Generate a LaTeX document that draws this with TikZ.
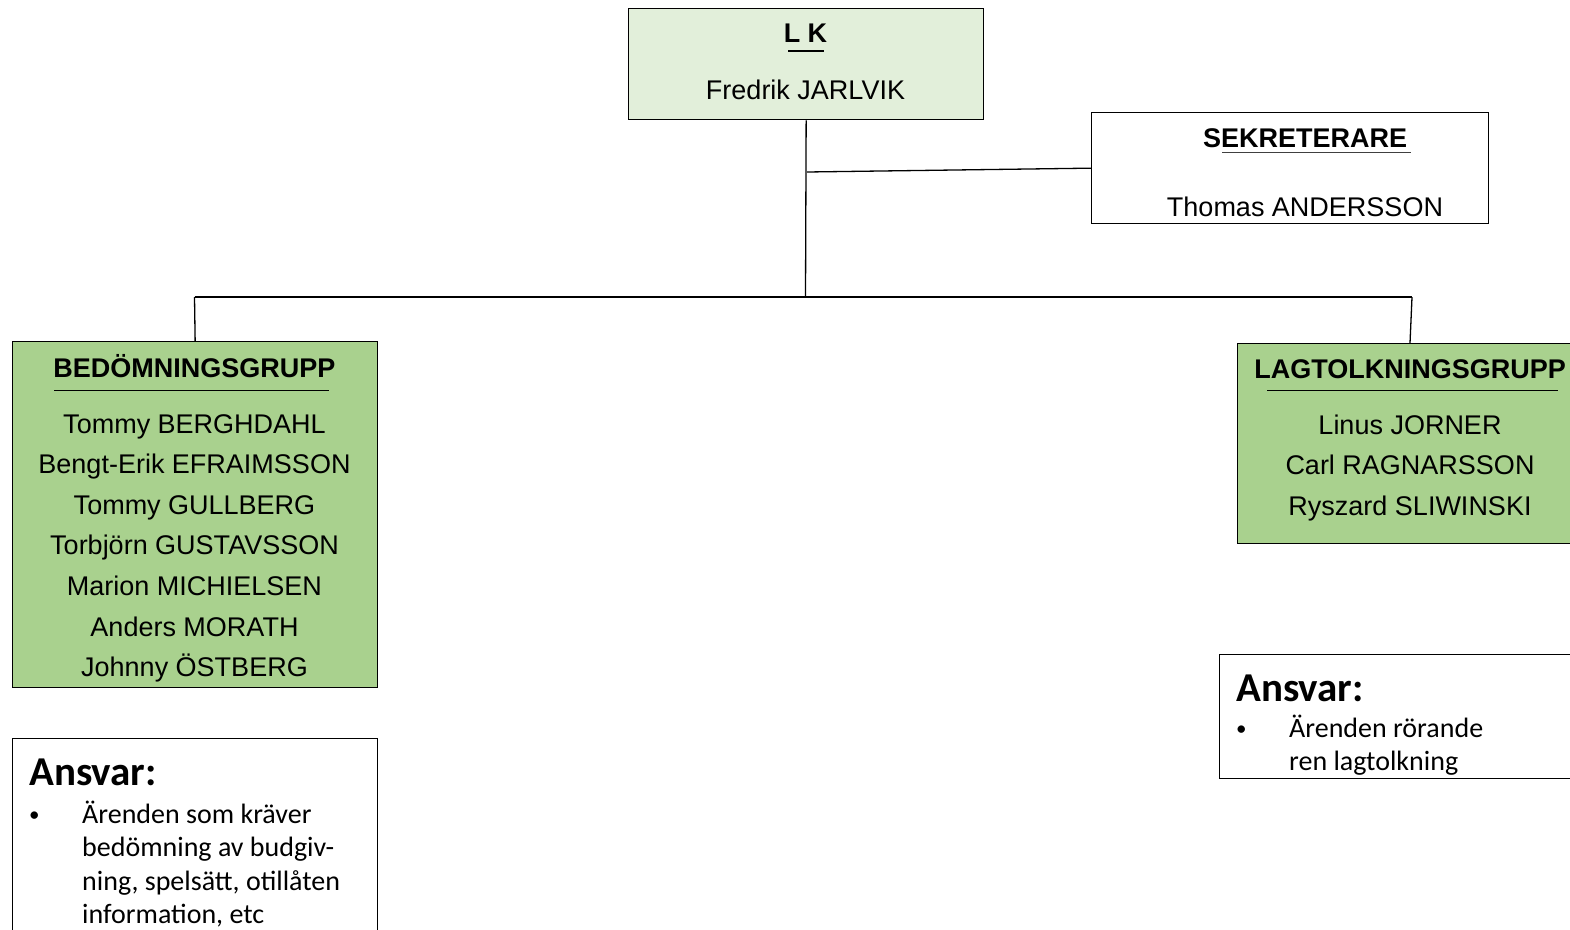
\documentclass[tikz,border=0pt]{standalone}
\usepackage{fontspec}
\setmainfont{Liberation Sans}
\newfontfamily\calib{Carlito}
\definecolor{lightgreen}{HTML}{E2EFDA}
\definecolor{midgreen}{HTML}{A9D18E}
\begin{document}
\begin{tikzpicture}[x=1pt,y=-1pt,
  box/.style={draw=black,line width=1.3pt,rectangle,inner sep=0pt,anchor=north west},
  conn/.style={draw=black,line width=1.3pt},
  ul/.style={draw=black,line width=1.2pt},
  ar/.style={font=\fontsize{27}{32}\selectfont,inner sep=0pt,anchor=base},
  arb/.style={font=\fontsize{27}{32}\bfseries\selectfont,inner sep=0pt,anchor=base},
  cal/.style={font=\calib\fontsize{28}{33}\selectfont,inner sep=0pt,anchor=base west},
  bul/.style={font=\calib\fontsize{21}{33}\selectfont,inner sep=0pt,anchor=base west},
  calb/.style={font=\calib\fontsize{41}{48}\bfseries\selectfont,inner sep=0pt,anchor=base west}]
\useasboundingbox (0,0) rectangle (1570,929);
\clip (0,0) rectangle (1570,929);
\fill[white] (0,0) rectangle (1570,929);

% boxes
\node[box,fill=lightgreen,minimum width=355pt,minimum height=111pt] (lk) at (628,8) {};
\node[box,fill=white,minimum width=397pt,minimum height=111pt] (sek) at (1091,112) {};
\node[box,fill=midgreen,minimum width=365pt,minimum height=346pt] (bed) at (12,341) {};
\node[box,fill=midgreen,minimum width=350pt,minimum height=200pt] (lag) at (1237,343) {};
\node[box,fill=white,minimum width=365pt,minimum height=215pt] (ans1) at (12,738) {};
\node[box,fill=white,minimum width=365pt,minimum height=124pt] (ans2) at (1219,654) {};

% connectors
\coordinate (busM) at (805.5,297);
\coordinate (busL) at (194.5,297);
\coordinate (busR) at (1412,297);
\coordinate (lagtop) at (1410,343);
\coordinate (sekjoin) at (807,172);
\draw[conn] (lk.south) -- (busM);
\draw[conn] (busL) -- (busR);
\draw[conn] (busL) -- (bed.north);
\draw[conn] (busR) -- (lagtop);
\draw[conn] (sekjoin) -- (sek.west);

% LK
\node[arb] (lkt) at (805.5,42) {L K};
\draw[ul] (788,51) -- (824,51);
\node[ar] (lkn) at (805.5,99) {Fredrik JARLVIK};

% Sekreterare
\node[arb] (sekt) at (1305,147) {SEKRETERARE};
\draw[ul,draw=black!75] (1222,152.5) -- (1411,152.5);
\node[ar] (sekn) at (1305,216) {Thomas ANDERSSON};

% Bedomningsgrupp
\node[arb] (bedt) at (194.5,377) {BEDÖMNINGSGRUPP};
\draw[ul] (54,390.5) -- (329,390.5);
\node[ar] (b1) at (194.5,433) {Tommy BERGHDAHL};
\node[ar] (b2) at (194.5,473.6) {Bengt-Erik EFRAIMSSON};
\node[ar] (b3) at (194.5,514.2) {Tommy GULLBERG};
\node[ar] (b4) at (194.5,554.8) {Torbjörn GUSTAVSSON};
\node[ar] (b5) at (194.5,595.4) {Marion MICHIELSEN};
\node[ar] (b6) at (194.5,636) {Anders MORATH};
\node[ar] (b7) at (194.5,676.6) {Johnny ÖSTBERG};

% Lagtolkningsgrupp
\node[arb] (lagt) at (1410,378) {LAGTOLKNINGSGRUPP};
\draw[ul] (1267,390.5) -- (1558,390.5);
\node[ar] (l1) at (1410,434) {Linus JORNER};
\node[ar] (l2) at (1410,474.6) {Carl RAGNARSSON};
\node[ar] (l3) at (1410,515.2) {Ryszard SLIWINSKI};

% Ansvar left
\node[calb] (a1h) at (29,785) {Ansvar:};
\node[bul] (a1b) at (29,821) {•};
\node[cal] (a1l1) at (82,823) {Ärenden som kräver};
\node[cal] (a1l2) at (82,856.5) {bedömning av budgiv-};
\node[cal] (a1l3) at (82,890) {ning, spelsätt, otillåten};
\node[cal] (a1l4) at (82,923.5) {information, etc};

% Ansvar right
\node[calb] (a2h) at (1236,701) {Ansvar:};
\node[bul] (a2b) at (1236,735) {•};
\node[cal] (a2l1) at (1289,737) {Ärenden rörande};
\node[cal] (a2l2) at (1289,770.5) {ren lagtolkning};
\end{tikzpicture}
\end{document}
